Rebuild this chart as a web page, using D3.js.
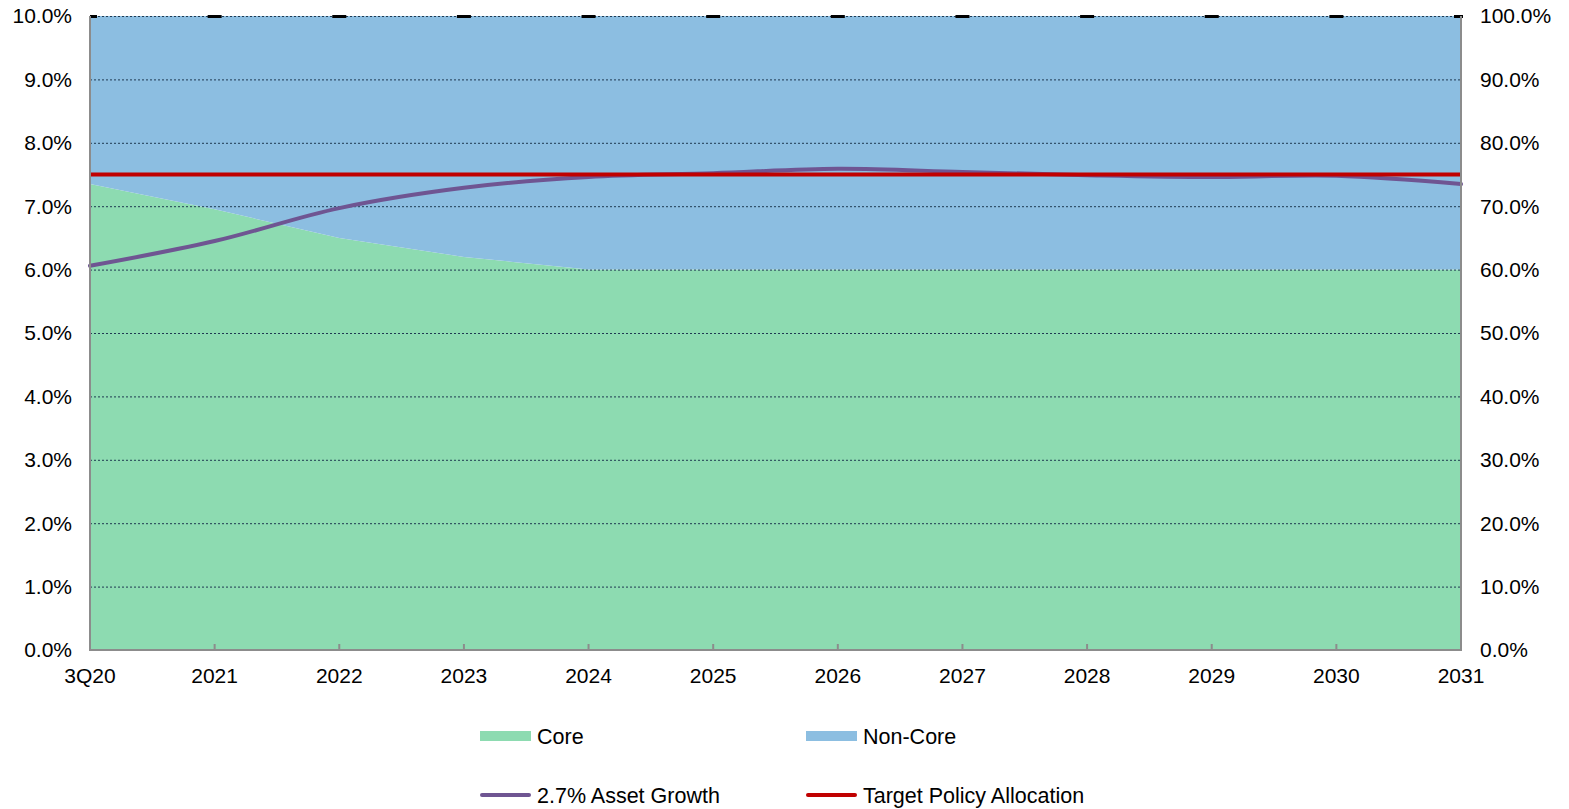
<!DOCTYPE html>
<html>
<head>
<meta charset="utf-8">
<script src="https://cdn.jsdelivr.net/npm/d3@7"></script>
<style>
  html, body { margin: 0; padding: 0; background: #fff; }
  svg { display: block; font-family: "Liberation Sans", Arial, sans-serif; }
</style>
</head>
<body>
<svg id="chart" width="1569" height="809"></svg>
<script>
// Categories along the x axis
const categories = ["3Q20", "2021", "2022", "2023", "2024", "2025", "2026", "2027", "2028", "2029", "2030", "2031"];

// Allocation split (right axis, percent of total)
const coreShare    = [73.5, 69.5, 65.0, 62.0, 60.0, 60.0, 60.0, 60.0, 60.0, 60.0, 60.0, 60.0];
const nonCoreShare = [26.5, 30.5, 35.0, 38.0, 40.0, 40.0, 40.0, 40.0, 40.0, 40.0, 40.0, 40.0];

// Allocation paths (left axis, percent)
const assetGrowth  = [6.06, 6.45, 6.97, 7.29, 7.46, 7.52, 7.59, 7.54, 7.49, 7.46, 7.48, 7.35];
const targetPolicy = [7.5, 7.5, 7.5, 7.5, 7.5, 7.5, 7.5, 7.5, 7.5, 7.5, 7.5, 7.5];

// Dash markers along the top (right axis)
const ceilingMarks = [100, 100, 100, 100, 100, 100, 100, 100, 100, 100, 100, 100];

// Tick values
const leftTicks  = [0, 1, 2, 3, 4, 5, 6, 7, 8, 9, 10];
const rightTicks = [0, 10, 20, 30, 40, 50, 60, 70, 80, 90, 100];

const colors = {
  core: "#8ddbb1",
  nonCore: "#8cbee1",
  growth: "#6f5592",
  target: "#c00000",
  axis: "#8c8c8c",
  grid: "#1f3a52"
};

const svg = d3.select("#chart");
const plot = { left: 90, right: 1461, top: 16, bottom: 650 };

const x = d3.scalePoint().domain(categories).range([plot.left, plot.right]);
const yLeft = d3.scaleLinear().domain([0, 10]).range([plot.bottom, plot.top]);
const yRight = d3.scaleLinear().domain([0, 100]).range([plot.bottom, plot.top]);

svg.append("defs").append("clipPath").attr("id", "plotClip")
  .append("rect")
  .attr("x", plot.left).attr("y", plot.top - 4)
  .attr("width", plot.right - plot.left + 2).attr("height", plot.bottom - plot.top + 4);

// Stacked areas
const rows = categories.map((c, i) => ({ cat: c, core: coreShare[i], nonCore: nonCoreShare[i] }));
const stack = d3.stack().keys(["core", "nonCore"])(rows);
const area = d3.area()
  .x(d => x(d.data.cat))
  .y0(d => yRight(d[0]))
  .y1(d => yRight(d[1]));

svg.append("g").selectAll("path")
  .data(stack)
  .join("path")
  .attr("d", area)
  .attr("fill", d => d.key === "core" ? colors.core : colors.nonCore);

// Dotted gridlines
svg.append("g").selectAll("line")
  .data(leftTicks.filter(d => d > 0))
  .join("line")
  .attr("x1", plot.left).attr("x2", plot.right)
  .attr("y1", d => yLeft(d) + 0.5).attr("y2", d => yLeft(d) + 0.5)
  .attr("stroke", colors.grid)
  .attr("stroke-width", 1)
  .attr("stroke-dasharray", "2,2");

// Top dash markers
svg.append("g").attr("clip-path", "url(#plotClip)")
  .selectAll("rect")
  .data(ceilingMarks.map((v, i) => ({ cat: categories[i], v })))
  .join("rect")
  .attr("x", d => x(d.cat) - 7)
  .attr("y", d => yRight(d.v) - 1)
  .attr("width", 14)
  .attr("height", 3)
  .attr("fill", "#000");

// Lines
const smoothLine = d3.line()
  .x((d, i) => x(categories[i]))
  .y(d => yLeft(d))
  .curve(d3.curveCatmullRom.alpha(0.5));

svg.append("path")
  .datum(assetGrowth)
  .attr("d", smoothLine)
  .attr("fill", "none")
  .attr("stroke", colors.growth)
  .attr("stroke-width", 4)
  .attr("stroke-linecap", "round");

const straightLine = d3.line()
  .x((d, i) => x(categories[i]))
  .y(d => yLeft(d));

svg.append("path")
  .datum(targetPolicy)
  .attr("d", straightLine)
  .attr("fill", "none")
  .attr("stroke", colors.target)
  .attr("stroke-width", 4);

// Axis lines
const axes = svg.append("g").attr("stroke", colors.axis).attr("stroke-width", 2);
axes.append("line").attr("x1", plot.left).attr("x2", plot.left).attr("y1", plot.top).attr("y2", plot.bottom + 1);
axes.append("line").attr("x1", plot.right).attr("x2", plot.right).attr("y1", plot.top).attr("y2", plot.bottom + 1);
axes.append("line").attr("x1", plot.left - 1).attr("x2", plot.right + 1).attr("y1", plot.bottom).attr("y2", plot.bottom);
axes.selectAll("line.tick")
  .data(categories)
  .join("line")
  .attr("class", "tick")
  .attr("x1", d => x(d)).attr("x2", d => x(d))
  .attr("y1", plot.bottom).attr("y2", plot.bottom - 6);

// Tick labels
const fmt = d3.format(".1f");
svg.append("g").selectAll("text")
  .data(leftTicks)
  .join("text")
  .attr("x", 72)
  .attr("y", d => yLeft(d))
  .attr("dy", "0.35em")
  .attr("text-anchor", "end")
  .attr("font-size", 21)
  .attr("fill", "#000")
  .text(d => fmt(d) + "%");

svg.append("g").selectAll("text")
  .data(rightTicks)
  .join("text")
  .attr("x", 1480)
  .attr("y", d => yRight(d))
  .attr("dy", "0.35em")
  .attr("text-anchor", "start")
  .attr("font-size", 21)
  .attr("fill", "#000")
  .text(d => fmt(d) + "%");

svg.append("g").selectAll("text")
  .data(categories)
  .join("text")
  .attr("x", d => x(d))
  .attr("y", 683)
  .attr("text-anchor", "middle")
  .attr("font-size", 21)
  .attr("fill", "#000")
  .text(d => d);

// Legend
const legendItems = [
  { label: "Core", kind: "area", color: colors.core, x: 480, y: 736 },
  { label: "Non-Core", kind: "area", color: colors.nonCore, x: 806, y: 736 },
  { label: "2.7% Asset Growth", kind: "line", color: colors.growth, x: 480, y: 795 },
  { label: "Target Policy Allocation", kind: "line", color: colors.target, x: 806, y: 795 }
];
const lg = svg.append("g").selectAll("g").data(legendItems).join("g");
lg.filter(d => d.kind === "area").append("rect")
  .attr("x", d => d.x).attr("y", d => d.y - 5)
  .attr("width", 51).attr("height", 10)
  .attr("fill", d => d.color);
lg.filter(d => d.kind === "line").append("line")
  .attr("x1", d => d.x + 2).attr("x2", d => d.x + 49)
  .attr("y1", d => d.y).attr("y2", d => d.y)
  .attr("stroke", d => d.color)
  .attr("stroke-width", 4)
  .attr("stroke-linecap", "round");
lg.append("text")
  .attr("x", d => d.x + 57)
  .attr("y", d => d.y)
  .attr("dy", "0.35em")
  .attr("font-size", 21.5)
  .attr("fill", "#000")
  .text(d => d.label);
</script>
</body>
</html>
